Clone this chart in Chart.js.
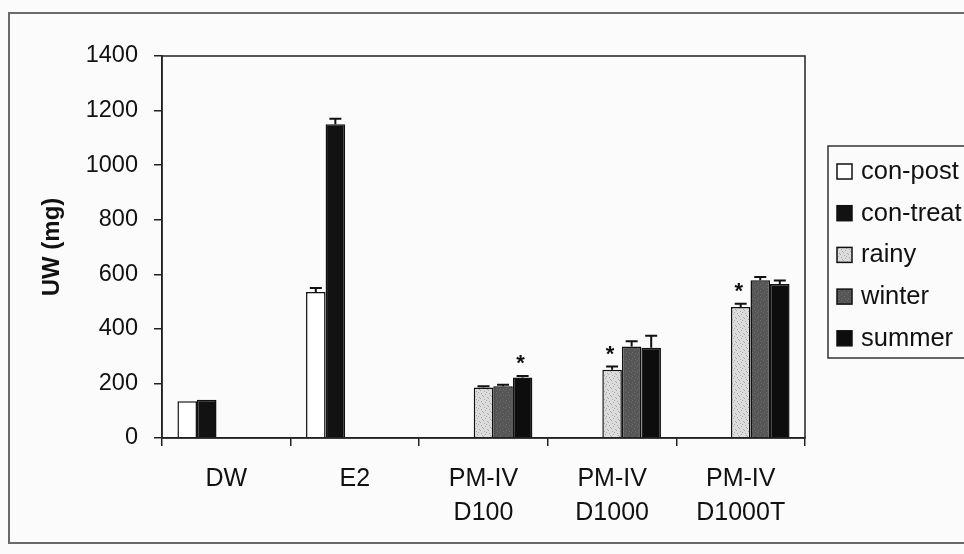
<!DOCTYPE html>
<html>
<head>
<meta charset="utf-8">
<script src="https://cdn.jsdelivr.net/npm/chart.js@4.4.1/dist/chart.umd.min.js"></script>
<style>
  html,body{margin:0;padding:0;background:#fbfbfb;}
  #wrap{width:964px;height:554px;position:relative;}
</style>
</head>
<body>
<div id="wrap"><canvas id="uwChart"></canvas></div>
<script>
// uterine weight chart
const categories = [['DW'], ['E2'], ['PM-IV', 'D100'], ['PM-IV', 'D1000'], ['PM-IV', 'D1000T']];
const seriesNames = ['con-post', 'con-treat', 'rainy', 'winter', 'summer'];

const conPost  = [135, 535, null, null, null];
const conTreat = [140, 1150, null, null, null];
const rainy    = [null, null, 185, 250, 480];
const winter   = [null, null, 190, 335, 578];
const summer   = [null, null, 222, 331, 564];

const conPostErr  = [0, 15, 0, 0, 0];
const conTreatErr = [0, 20, 0, 0, 0];
const rainyErr    = [0, 0, 5, 12, 12];
const winterErr   = [0, 0, 5, 20, 12];
const summerErr   = [0, 0, 5, 44, 13];

const yTicks = [0, 200, 400, 600, 800, 1000, 1200, 1400];

// significant marks: [series index, category index]
const stars = [[4, 2], [2, 3], [2, 4]];

const FONT = '"Liberation Sans", Arial, sans-serif';

function stipple(){
  const c = document.createElement('canvas');
  c.width = 8; c.height = 8;
  const g = c.getContext('2d');
  g.fillStyle = '#dcdcdc'; g.fillRect(0, 0, 8, 8);
  g.fillStyle = '#a9a9a9';
  [[1,1],[5,2],[3,4],[7,5],[0,6],[4,7],[6,0],[2,3]].forEach(p => g.fillRect(p[0], p[1], 1, 1));
  return g.createPattern(c, 'repeat');
}
function grain(){
  const c = document.createElement('canvas');
  c.width = 6; c.height = 6;
  const g = c.getContext('2d');
  g.fillStyle = '#565656'; g.fillRect(0, 0, 6, 6);
  g.fillStyle = '#6c6c6c';
  [[1,0],[4,2],[2,4],[5,5]].forEach(p => g.fillRect(p[0], p[1], 1, 1));
  return g.createPattern(c, 'repeat');
}

const fills = ['#ffffff', '#121212', stipple(), grain(), '#0d0d0d'];
const values = [conPost, conTreat, rainy, winter, summer];
const errs = [conPostErr, conTreatErr, rainyErr, winterErr, summerErr];

const datasets = seriesNames.map((name, i) => ({
  label: name,
  data: values[i],
  backgroundColor: fills[i],
  borderColor: '#111',
  borderWidth: 1.5,
  categoryPercentage: 0.76,
  barPercentage: 1.0
}));

const framePlugin = {
  id: 'frame',
  beforeDraw(chart){
    const ctx = chart.ctx;
    ctx.save();
    ctx.fillStyle = '#fbfbfb';
    ctx.fillRect(0, 0, chart.width, chart.height);
    ctx.strokeStyle = '#6a6a6a';
    ctx.lineWidth = 2;
    ctx.beginPath();
    ctx.moveTo(980, 13); ctx.lineTo(9, 13); ctx.lineTo(9, 543); ctx.lineTo(980, 543);
    ctx.stroke();
    ctx.restore();
  },
  afterDraw(chart){
    const {ctx, chartArea: a} = chart;
    ctx.save();
    ctx.strokeStyle = '#222';
    ctx.lineWidth = 1.5;
    ctx.strokeRect(a.left, a.top, a.right - a.left, a.bottom - a.top);

    // legend box, runs off the right edge like the original
    ctx.strokeStyle = '#333';
    ctx.strokeRect(828, 146, 160, 212);
    ctx.font = '25.5px ' + FONT;
    ctx.textBaseline = 'middle';
    ctx.fillStyle = '#111';
    chart.data.datasets.forEach((ds, i) => {
      const cy = 171 + i * 41.7;
      ctx.fillStyle = ds.backgroundColor;
      ctx.fillRect(837, cy - 7, 15, 15);
      ctx.strokeStyle = '#111';
      ctx.lineWidth = 1.5;
      ctx.strokeRect(837, cy - 7, 15, 15);
      ctx.fillStyle = '#111';
      ctx.fillText(ds.label, 861, cy + 1);
    });
    ctx.restore();
  },
  afterDatasetsDraw(chart){
    const ctx = chart.ctx;
    const y = chart.scales.y;
    ctx.save();
    ctx.strokeStyle = '#111';
    ctx.lineWidth = 2;
    chart.data.datasets.forEach((ds, i) => {
      const meta = chart.getDatasetMeta(i);
      meta.data.forEach((bar, j) => {
        const v = ds.data[j], e = errs[i][j];
        if (v == null || !e) return;
        const top = y.getPixelForValue(v + e);
        ctx.beginPath();
        ctx.moveTo(bar.x, bar.y);
        ctx.lineTo(bar.x, top);
        ctx.moveTo(bar.x - 6, top);
        ctx.lineTo(bar.x + 6, top);
        ctx.stroke();
      });
    });
    ctx.fillStyle = '#111';
    ctx.font = 'bold 22px ' + FONT;
    ctx.textAlign = 'center';
    ctx.textBaseline = 'middle';
    stars.forEach(([s, c]) => {
      const bar = chart.getDatasetMeta(s).data[c];
      const top = y.getPixelForValue(values[s][c] + errs[s][c]);
      ctx.fillText('*', bar.x - 2, top - 12);
    });
    ctx.restore();
  }
};

new Chart(document.getElementById('uwChart'), {
  type: 'bar',
  data: { labels: categories, datasets },
  options: {
    responsive: true,
    maintainAspectRatio: false,
    animation: false,
    layout: { padding: { top: 56, right: 159, left: 0, bottom: 0 } },
    plugins: { legend: { display: false }, tooltip: { enabled: false } },
    scales: {
      x: {
        offset: true,
        grid: { display: true, drawOnChartArea: false, drawTicks: true, tickLength: 8, color: '#222', lineWidth: 1.5, offset: true },
        border: { display: true, color: '#222', width: 1.5 },
        ticks: { color: '#111', font: { family: FONT, size: 25, lineHeight: 1.35 }, padding: 16, maxRotation: 0, autoSkip: false },
        afterFit(s){ s.height = 116; }
      },
      y: {
        min: 0, max: 1400,
        afterBuildTicks(s){ s.ticks = yTicks.map(v => ({ value: v })); },
        grid: { display: true, drawOnChartArea: false, drawTicks: true, tickLength: 8, color: '#222', lineWidth: 1.5 },
        border: { display: true, color: '#222', width: 1.5 },
        ticks: { color: '#111', font: { family: FONT, size: 23.5 }, padding: 16, callback: v => String(v) },
        title: { display: true, text: 'UW (mg)', color: '#111', font: { family: FONT, size: 24, weight: 'bold' }, padding: { top: 38, bottom: 0 } },
        afterFit(s){ s.width = 162; }
      }
    }
  },
  plugins: [framePlugin]
});
</script>
</body>
</html>
